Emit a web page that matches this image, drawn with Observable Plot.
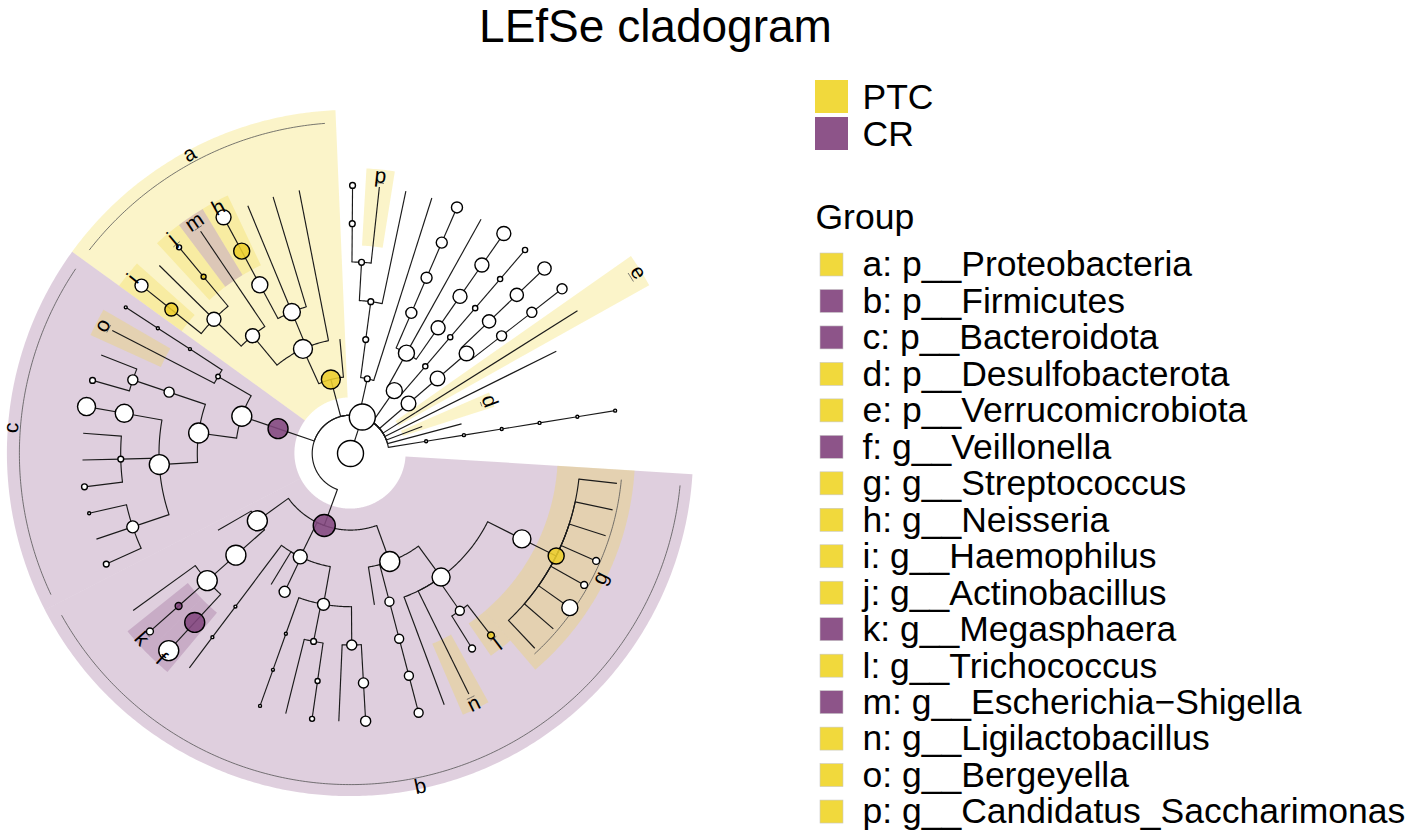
<!DOCTYPE html>
<html><head><meta charset="utf-8">
<script src="https://cdn.jsdelivr.net/npm/d3@7"></script>
<script src="https://cdn.jsdelivr.net/npm/@observablehq/plot@0.6"></script>
<style>body{margin:0;background:#fff;} svg{display:block}</style>
</head><body><div id="chart"></div>
<script>
// ---------------- DATA ----------------
const chartTitle = "LEfSe cladogram";
const groups = ["PTC", "CR"];
const groupColors = ["#F1D93C", "#8D5489"];
const nodeColors = ["#EDCE2C", "#83487F"];

// taxonomic tree: [id, parent, taxonomic depth, relative abundance]; children listed in clockwise order
const treeNodes = [
["root", null, 0, 100],
["k__Bacteria", "root", 1, 100],
["p__Firmicutes", "k__Bacteria", 2, 72],
["b1", "p__Firmicutes", 3, 59],
["b11", "b1", 4, 48],
["b111", "b11", 5, 48],
["g__Streptococcus", "b111", 6, 38],
["g1", "g__Streptococcus", 7, 0],
["g2", "g__Streptococcus", 7, 0],
["g3", "g__Streptococcus", 7, 0],
["g4", "g__Streptococcus", 7, 7],
["g5", "g__Streptococcus", 7, 7],
["g6", "g__Streptococcus", 7, 38],
["g7", "g__Streptococcus", 7, 0],
["g8", "g__Streptococcus", 7, 0],
["b112", "b11", 5, 12],
["g__Trichococcus", "b112", 6, 7],
["b1122", "b112", 6, 7],
["g__Ligilactobacillus", "b11", 6, 0],
["n1", "g__Ligilactobacillus", 7, 0],
["b113", "b11", 7, 0],
["b12", "b1", 4, 12],
["b121", "b12", 5, 12],
["b1211", "b121", 6, 12],
["b12111", "b1211", 7, 12],
["b13", "b1", 4, 0],
["b2", "p__Firmicutes", 3, 29],
["b21", "b2", 4, 21],
["b211", "b21", 5, 15],
["b2111", "b211", 6, 15],
["b21111", "b2111", 7, 15],
["b2112", "b211", 7, 0],
["b212", "b21", 5, 5],
["b2121", "b212", 6, 3.7],
["b21211", "b2121", 7, 3.7],
["b2122", "b212", 7, 0],
["b213", "b21", 5, 1.3],
["b2131", "b213", 6, 1.3],
["b21311", "b2131", 7, 1.3],
["b22", "b2", 4, 18],
["b23", "b2", 4, 0],
["b24", "b2", 4, 0],
["b241", "b24", 5, 1.3],
["b2411", "b241", 6, 1.3],
["b24111", "b2411", 7, 0],
["b3", "p__Firmicutes", 3, 59],
["b31", "b3", 4, 59],
["b311", "b31", 5, 59],
["g__Veillonella", "b311", 6, 59],
["f1", "g__Veillonella", 7, 59],
["g__Megasphaera", "b311", 6, 7],
["k1", "g__Megasphaera", 7, 7],
["b3113", "b311", 7, 0],
["b32", "b3", 4, 0],
["p__Bacteroidota", "k__Bacteria", 2, 59],
["c1", "p__Bacteroidota", 3, 59],
["c11", "c1", 4, 59],
["c111", "c11", 5, 59],
["c1111", "c111", 6, 21],
["c11111", "c1111", 7, 5],
["c11112", "c1111", 7, 0],
["c11113", "c1111", 7, 1.3],
["c1112", "c111", 6, 5],
["c11121", "c1112", 7, 5],
["c11122", "c1112", 7, 0],
["c11123", "c1112", 7, 0],
["c1113", "c111", 6, 48],
["c11131", "c1113", 7, 48],
["c112", "c11", 5, 15],
["c1121", "c112", 6, 15],
["c11211", "c1121", 7, 5],
["c11212", "c1121", 7, 0],
["c12", "c1", 4, 3],
["g__Bergeyella", "c12", 6, 0],
["o1", "g__Bergeyella", 7, 0],
["c122", "c12", 5, 1.3],
["c1221", "c122", 6, 1.3],
["c12211", "c1221", 7, 1.3],
["p__Proteobacteria", "k__Bacteria", 2, 53],
["a1", "p__Proteobacteria", 3, 53],
["a11", "a1", 4, 29],
["a111", "a11", 5, 29],
["g__Haemophilus", "a111", 6, 25],
["i1", "g__Haemophilus", 7, 25],
["a1112", "a111", 7, 0],
["g__Actinobacillus", "a111", 6, 3.7],
["j1", "g__Actinobacillus", 7, 3.7],
["g__Escherichia−Shigella", "a11", 6, 0],
["m1", "g__Escherichia−Shigella", 7, 0],
["a12", "a1", 4, 43],
["a121", "a12", 5, 38],
["g__Neisseria", "a121", 6, 38],
["h1", "g__Neisseria", 7, 33],
["a122", "a12", 7, 0],
["a123", "a12", 7, 0],
["a13", "a1", 7, 0],
["a2", "p__Proteobacteria", 3, 0],
["s", "k__Bacteria", 2, 5],
["s1", "s", 3, 5],
["s11", "s1", 4, 5],
["s111", "s11", 5, 5],
["s1111", "s111", 6, 5],
["s11111", "s1111", 7, 5],
["g__Candidatus_Saccharimonas", "s111", 6, 0],
["p1", "g__Candidatus_Saccharimonas", 7, 0],
["s112", "s11", 7, 0],
["s2", "s", 7, 0],
["t", "k__Bacteria", 2, 38],
["t1", "t", 3, 38],
["t11", "t1", 4, 18],
["t111", "t11", 5, 18],
["t1111", "t111", 6, 18],
["t11111", "t1111", 7, 18],
["t12", "t1", 7, 0],
["t13", "t1", 4, 29],
["t131", "t13", 5, 29],
["t1311", "t131", 6, 29],
["t13111", "t1311", 7, 29],
["t2", "t", 3, 4],
["t21", "t2", 4, 4],
["t211", "t21", 5, 4],
["t2111", "t211", 6, 4],
["t21111", "t2111", 7, 4],
["u", "k__Bacteria", 2, 32],
["u1", "u", 3, 32],
["u11", "u1", 4, 32],
["u111", "u11", 5, 26],
["u1111", "u111", 6, 26],
["u11111", "u1111", 7, 26],
["u112", "u11", 5, 15],
["u1121", "u112", 6, 15],
["u11211", "u1121", 7, 15],
["p__Verrucomicrobiota", "k__Bacteria", 2, 0],
["e1", "p__Verrucomicrobiota", 7, 0],
["v", "k__Bacteria", 6, 0],
["p__Desulfobacterota", "k__Bacteria", 2, 0],
["w", "k__Bacteria", 3, 0],
["x", "k__Bacteria", 2, 1.3],
["x1", "x", 3, 1.3],
["x2", "x1", 4, 1.3],
["x3", "x2", 5, 1.3],
["x4", "x3", 6, 1.3],
["x5", "x4", 7, 1.3]
];

// LEfSe biomarkers
const markerLetters = ["a","b","c","d","e","f","g","h","i","j","k","l","m","n","o","p"];
const markerTaxa = ["p__Proteobacteria","p__Firmicutes","p__Bacteroidota","p__Desulfobacterota","p__Verrucomicrobiota",
  "g__Veillonella","g__Streptococcus","g__Neisseria","g__Haemophilus","g__Actinobacillus","g__Megasphaera",
  "g__Trichococcus","g__Escherichia−Shigella","g__Ligilactobacillus","g__Bergeyella","g__Candidatus_Saccharimonas"];
const markerGroups = ["PTC","CR","CR","PTC","PTC","CR","PTC","PTC","PTC","PTC","CR","PTC","CR","PTC","PTC","PTC"];

// ---------------- LAYOUT (ggtree-like circular layout) ----------------
const cx = 350, cy = 453, levelStep = 38.3, startAngle = 6.4, leafStep = 5.74;
const byId = new Map(), kids = new Map();
treeNodes.forEach(([id, parent, depth, abund]) => { byId.set(id, {id, parent, depth, abund}); kids.set(id, []); });
treeNodes.forEach(([id, parent]) => { if (parent) kids.get(parent).push(id); });
let leafCounter = 0;
function layout(id) {
  const n = byId.get(id), ch = kids.get(id);
  if (ch.length === 0) { n.angle = startAngle + leafStep * leafCounter++; n.leaves = [n]; }
  else { ch.forEach(layout); n.angle = d3.mean(ch, c => byId.get(c).angle); n.leaves = ch.flatMap(c => byId.get(c).leaves); }
  n.radius = n.depth * levelStep;
}
layout("root");
const pol = (r, a) => [cx + r * Math.cos(a * Math.PI / 180), cy + r * Math.sin(a * Math.PI / 180)];

const markerGroupOf = new Map(markerTaxa.map((t, i) => [t, markerGroups[i]]));
const nodes = [...byId.values()].map(n => {
  const [x, y] = pol(n.radius, n.angle);
  return {...n, x, y, group: markerGroupOf.get(n.id) || "none"};
});

const radials = [], arcPts = [];
for (const n of byId.values()) {
  if (!n.parent) continue;
  const p = byId.get(n.parent);
  const [x1, y1] = pol(p.radius, n.angle), [x2, y2] = pol(n.radius, n.angle);
  radials.push({x1, y1, x2, y2});
  if (p.radius > 0 && Math.abs(n.angle - p.angle) > 0.01) {
    const steps = Math.max(2, Math.ceil(Math.abs(n.angle - p.angle) / 0.5));
    for (let s = 0; s <= steps; s++) {
      const [x, y] = pol(p.radius, p.angle + (n.angle - p.angle) * s / steps);
      arcPts.push({x, y, z: n.id});
    }
  }
}

const offsets = {2: {inner: 21, outer: 75, bar: 63, label: 72}, 6: {inner: 22, outer: 17, bar: 4, label: 11}};
const wedgePts = [], barPts = [], labels = [];
markerTaxa.forEach((taxon, i) => {
  const n = byId.get(taxon), off = offsets[n.depth];
  const a0 = d3.min(n.leaves, l => l.angle), a1 = d3.max(n.leaves, l => l.angle);
  const rLeaf = d3.max(n.leaves, l => l.radius);
  const w0 = a0 - leafStep / 2, w1 = a1 + leafStep / 2;
  const rIn = n.radius - off.inner, rOut = rLeaf + off.outer;
  const steps = Math.max(2, Math.ceil((w1 - w0) / 0.5));
  for (let s = 0; s <= steps; s++) {
    const a = w0 + (w1 - w0) * s / steps;
    const [x1, y1] = pol(rIn, a), [x2, y2] = pol(rOut, a);
    wedgePts.push({z: markerLetters[i], group: markerGroups[i], level: n.depth, x1, y1, x2, y2});
  }
  const b0 = a0 - 0.8, b1 = a1 + 0.8, bs = Math.max(2, Math.ceil((b1 - b0) / 0.5));
  for (let s = 0; s <= bs; s++) {
    const [x, y] = pol(rLeaf + off.bar, b0 + (b1 - b0) * s / bs);
    barPts.push({x, y, z: markerLetters[i]});
  }
  const mid = (a0 + a1) / 2, [lx, ly] = pol(rLeaf + off.label, mid);
  const m = ((mid % 360) + 360) % 360;
  labels.push({x: lx, y: ly, text: markerLetters[i], rotate: (m > 0 && m < 180) ? m - 90 : m + 90});
});

// legend rows
const legendTop = groups.map((g, i) => ({g, color: groupColors[i], i}));
const legendRows = markerLetters.map((l, i) => ({text: `${l}: ${markerTaxa[i]}`, color: groupColors[groups.indexOf(markerGroups[i])], i}));
const rowStep = 36.47;

const font = "'Liberation Sans', Arial, Helvetica, sans-serif";
const wedgeFill = g => groupColors[groups.indexOf(g)];

const plot = Plot.plot({
  width: 1417, height: 839, margin: 0,
  x: {domain: [0, 1417], range: [0, 1417], axis: null},
  y: {domain: [0, 839], range: [0, 839], axis: null},
  r: {type: "sqrt", domain: [0, 100], range: [0, 13]},
  style: {background: "white", fontFamily: font},
  marks: [
    // phylum-level highlights, then genus-level highlights
    ...[2, 6].flatMap(level => groups.map(g =>
      Plot.area(wedgePts.filter(d => d.level === level && d.group === g),
        {x1: "x1", y1: "y1", x2: "x2", y2: "y2", z: "z", fill: wedgeFill(g), fillOpacity: 0.28}))),
    Plot.line(barPts, {x: "x", y: "y", z: "z", stroke: "#555", strokeWidth: 0.8}),
    Plot.line(arcPts, {x: "x", y: "y", z: "z", stroke: "#1a1a1a", strokeWidth: 1.15}),
    Plot.link(radials, {x1: "x1", y1: "y1", x2: "x2", y2: "y2", stroke: "#1a1a1a", strokeWidth: 1.15}),
    Plot.dot(nodes.filter(d => d.abund > 0 && d.group === "none"), {x: "x", y: "y", r: "abund", fill: "white", stroke: "black", strokeWidth: 1.4}),
    ...groups.map((g, i) => Plot.dot(nodes.filter(d => d.abund > 0 && d.group === g),
      {x: "x", y: "y", r: "abund", fill: nodeColors[i], fillOpacity: 0.88, stroke: "black", strokeWidth: 1.4})),
    Plot.text(labels, {x: "x", y: "y", text: "text", rotate: "rotate", fontSize: 21, fill: "black", fontFamily: font}),
    // title
    Plot.text([chartTitle], {x: 655, y: 27, text: d => d, fontSize: 46, fill: "black", fontFamily: font}),
    // group legend
    Plot.rect(legendTop, {x1: 815, x2: 848, y1: d => 80 + d.i * 37, y2: d => 113 + d.i * 37, fill: "color"}),
    Plot.text(legendTop, {x: 862, y: d => 97 + d.i * 37, text: "g", textAnchor: "start", fontSize: 35.5, fill: "black", fontFamily: font}),
    Plot.text(["Group"], {x: 815, y: 217, text: d => d, textAnchor: "start", fontSize: 35.5, fill: "black", fontFamily: font}),
    Plot.rect(legendRows, {x1: 820, x2: 843, y1: d => 253 + d.i * rowStep, y2: d => 276 + d.i * rowStep, fill: "color", stroke: "#c8c8c8", strokeWidth: 0.6}),
    Plot.text(legendRows, {x: 862, y: d => 264.5 + d.i * rowStep, text: "text", textAnchor: "start", fontSize: 35.5, fill: "black", fontFamily: font})
  ]
});
document.getElementById("chart").appendChild(plot);
</script>
</body></html>
